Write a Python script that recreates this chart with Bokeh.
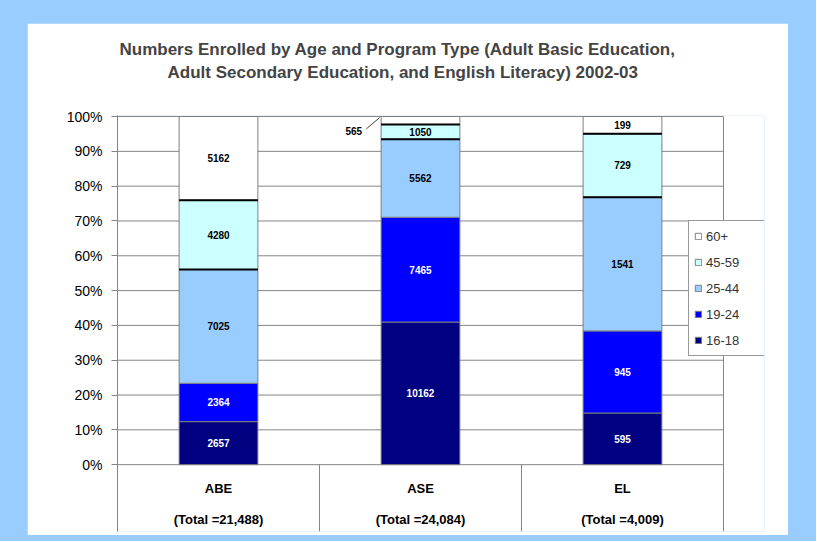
import pandas as pd
from bokeh.plotting import figure
from bokeh.models import (ColumnDataSource, Range1d, Title, Legend,
                          LegendItem, FixedTicker, NumeralTickFormatter)
from bokeh.layouts import column
from bokeh.core.properties import value
from bokeh.embed import file_html
from bokeh.resources import INLINE

# ---------------- data ----------------
programs = ["ABE", "ASE", "EL"]
total_labels = ["(Total =21,488)", "(Total =24,084)", "(Total =4,009)"]
age_groups = ["16-18", "19-24", "25-44", "45-59", "60+"]
n_16_18 = [2657, 10162, 595]
n_19_24 = [2364, 7465, 945]
n_25_44 = [7025, 5562, 1541]
n_45_59 = [4280, 1050, 729]
n_60_plus = [5162, 565, 199]
y_ticks = [0.0, 0.1, 0.2, 0.3, 0.4, 0.5, 0.6, 0.7, 0.8, 0.9, 1.0]

title_line1 = "Numbers Enrolled by Age and Program Type (Adult Basic Education,"
title_line2 = "Adult Secondary Education, and English Literacy) 2002-03"

# ---------------- styles ----------------
colors = ["#000080", "#0000FF", "#99CCFF", "#CCFFFF", "#FFFFFF"]
label_colors = ["#FFFFFF", "#FFFFFF", "#000000", "#000000", "#000000"]
FONT = "Liberation Sans"
GRID = "#858585"
BAR_W = 0.39
Y_BOTTOM = -0.192
X_END = 3.203

n_prog = len(programs)
xs = [i + 0.5 for i in range(n_prog)]

counts = pd.DataFrame({"16-18": n_16_18, "19-24": n_19_24, "25-44": n_25_44,
                       "45-59": n_45_59, "60+": n_60_plus}, index=programs)
shares = counts.div(counts.sum(axis=1), axis=0)
tops = shares.cumsum(axis=1)
bottoms = tops - shares

p = figure(x_range=Range1d(0, X_END), y_range=Range1d(Y_BOTTOM, 1.003),
           width=761, height=512, output_backend="svg", toolbar_location=None,
           min_border_left=90, min_border_right=24, min_border_top=92,
           min_border_bottom=4, background_fill_color="white",
           border_fill_color="white", outline_line_color=None)

# horizontal grid lines limited to the category area
grid_src = ColumnDataSource(dict(y=y_ticks, x0=[0] * len(y_ticks), x1=[n_prog] * len(y_ticks)))
p.segment(x0="x0", y0="y", x1="x1", y1="y", source=grid_src, line_color=GRID, line_width=1)

# table / frame vertical lines
bounds = list(range(1, n_prog + 1))
vl_src = ColumnDataSource(dict(x=bounds, y0=[Y_BOTTOM] * n_prog,
                               y1=[0] * (n_prog - 1) + [1.0]))
p.segment(x0="x", y0="y0", x1="x", y1="y1", source=vl_src, line_color=GRID, line_width=1)

src = ColumnDataSource(dict(x=xs, **{g: shares[g].tolist() for g in age_groups}))
renderers = p.vbar_stack(age_groups, x="x", width=BAR_W, source=src,
                         fill_color=colors, line_color="#7F7F7F", line_width=1)

# black separators around the 45-59 segment
sep = ColumnDataSource(dict(x0=[x - BAR_W / 2 for x in xs] * 2,
                            x1=[x + BAR_W / 2 for x in xs] * 2,
                            y=bottoms["45-59"].tolist() + tops["45-59"].tolist()))
p.segment(x0="x0", y0="y", x1="x1", y1="y", source=sep, line_color="black", line_width=2)

# in-bar labels and small outside labels
in_x, in_y, in_t, in_c = [], [], [], []
out_x, out_y, out_t = [], [], []
for x, prog in zip(xs, programs):
    for g, lc in zip(age_groups, label_colors):
        mid = (bottoms.loc[prog, g] + tops.loc[prog, g]) / 2
        if shares.loc[prog, g] < 0.03:
            out_x.append(x); out_y.append(mid); out_t.append(str(counts.loc[prog, g]))
        else:
            in_x.append(x); in_y.append(mid); in_t.append(str(counts.loc[prog, g])); in_c.append(lc)

in_src = ColumnDataSource(dict(x=in_x, y=in_y, text=in_t, color=in_c))
p.text(x="x", y="y", text="text", source=in_src, text_color="color",
       text_align="center", text_baseline="middle", text_font=value(FONT),
       text_font_style="bold", text_font_size="10px")

out_src = ColumnDataSource(dict(lx=[x - 0.33 for x in out_x], ly=[v - 0.03 for v in out_y],
                                text=out_t,
                                sx0=[x - 0.268 for x in out_x], sy0=[v - 0.024 for v in out_y],
                                sx1=[x - 0.203 for x in out_x], sy1=[v + 0.008 for v in out_y]))
p.text(x="lx", y="ly", text="text", source=out_src,
       text_color="black", text_align="center", text_baseline="middle",
       text_font=value(FONT), text_font_style="bold", text_font_size="10px")
p.segment(x0="sx0", y0="sy0", x1="sx1", y1="sy1", source=out_src,
          line_color="#404040", line_width=1)

# category table text
tbl = ColumnDataSource(dict(x=xs, cat=programs, tot=total_labels,
                            cy=[-0.069] * n_prog, ty=[-0.158] * n_prog))
p.text(x="x", y="cy", text="cat", source=tbl, text_align="center",
       text_baseline="middle", text_font=value(FONT), text_font_style="bold",
       text_font_size="13px", text_color="black")
p.text(x="x", y="ty", text="tot", source=tbl, text_align="center",
       text_baseline="middle", text_font=value(FONT), text_font_style="bold",
       text_font_size="13px", text_color="black")

# axes / grid
p.xaxis.visible = False
p.xgrid.grid_line_color = None
p.ygrid.grid_line_color = None
p.yaxis.ticker = FixedTicker(ticks=y_ticks)
p.yaxis.formatter = NumeralTickFormatter(format="0%")
p.yaxis.axis_line_color = GRID
p.yaxis.major_tick_line_color = GRID
p.yaxis.major_tick_out = 6
p.yaxis.major_tick_in = 0
p.yaxis.minor_tick_line_color = None
p.yaxis.major_label_standoff = 9
p.yaxis.major_label_text_font = FONT
p.yaxis.major_label_text_font_size = "14px"
p.yaxis.major_label_text_color = "black"

# titles: spacer nearest the frame, then line 2, then line 1
p.add_layout(Title(text=" ", text_font_size="2px", standoff=30), "above")
p.add_layout(Title(text=title_line2, align="left", offset=50, text_font=FONT,
                   text_font_size="17px", text_font_style="bold", standoff=0), "above")
p.add_layout(Title(text=title_line1, align="left", offset=2, text_font=FONT,
                   text_font_size="17px", text_font_style="bold", standoff=4), "above")

# legend
items = [LegendItem(label=g, renderers=[r]) for g, r in zip(age_groups, renderers)][::-1]
legend = Legend(items=items, location=(571, 175), padding=5, spacing=6,
                label_height=20, label_width=53, glyph_width=8, glyph_height=8,
                label_standoff=4, label_text_font=FONT, label_text_font_size="13px",
                label_text_color="#333333", border_line_color="#333333",
                border_line_width=1, background_fill_alpha=1.0, margin=0)
p.add_layout(legend, "center")

layout = column(p, styles={"background-color": "#99CCFF",
                           "padding": "23px 28px 6px 27px"})

open("out.html", "w").write(file_html(layout, INLINE))
